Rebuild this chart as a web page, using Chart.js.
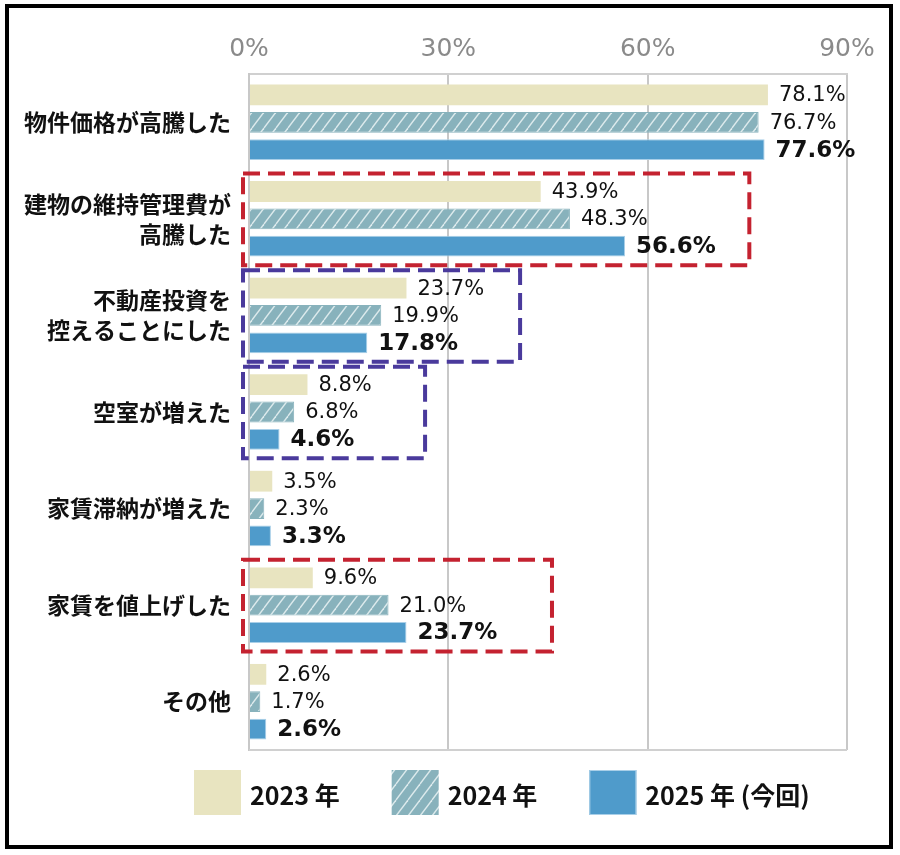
<!DOCTYPE html>
<html lang="ja">
<head>
<meta charset="utf-8">
<title>投資方針変更の理由</title>
<script src="https://cdn.jsdelivr.net/npm/chart.js@4.4.1/dist/chart.umd.min.js"></script>
<style>
  html, body { margin: 0; padding: 0; background: #fff; }
  #wrap { position: relative; width: 900px; height: 855px; }
  #frame {
    position: absolute; left: 5px; top: 4px; width: 888px; height: 845px;
    box-sizing: border-box; border: 4px solid #000; pointer-events: none;
  }
</style>
</head>
<body>
<div id="wrap">
  <canvas id="chart" width="900" height="855"></canvas>
  <div id="frame"></div>
</div>
<script>
// categories (multi-line labels as arrays)
const categories = [
    ['物件価格が高騰した'],
    ['建物の維持管理費が', '高騰した'],
    ['不動産投資を', '控えることにした'],
    ['空室が増えた'],
    ['家賃滞納が増えた'],
    ['家賃を値上げした'],
    ['その他']
];
const seriesLabels = ['2023 年', '2024 年', '2025 年 (今回)'];
const values2023 = [78.1, 43.9, 23.7, 8.8, 3.5, 9.6, 2.6];
const values2024 = [76.7, 48.3, 19.9, 6.8, 2.3, 21.0, 1.7];
const values2025 = [77.6, 56.6, 17.8, 4.6, 3.3, 23.7, 2.6];
const xTicks = [0, 30, 60, 90];

// dashed boxes drawn around some groups: row index, right edge (in %), colour
const boxRows = [1, 2, 3, 5];
const boxRightValues = [75.3, 40.8, 26.5, 45.6];
const boxColors = ['#c42230', '#4a3a9c', '#4a3a9c', '#c42230'];

// hatched fill for 2024
function makeHatch() {
    const c = document.createElement('canvas');
    c.width = 12;
    c.height = 16;
    const g = c.getContext('2d');
    g.fillStyle = '#88b2bc';
    g.fillRect(0, 0, 12, 16);
    g.strokeStyle = 'rgba(235,243,245,0.85)';
    g.lineWidth = 1.4;
    for (const off of [-12, 0, 12]) {
        g.beginPath();
        g.moveTo(off, 16);
        g.lineTo(off + 12, 0);
        g.stroke();
    }
    return g.createPattern(c, 'repeat');
}

const hatch = makeHatch();
const fills = ['#e8e4c0', hatch, '#4f9bcb'];
const borders = ['#e8e4c0', '#88b2bc', '#a9cfe8'];

const valueLabels = {
    id: 'valueLabels',
    afterDatasetsDraw(chart) {
        const ctx = chart.ctx;
        ctx.save();
        ctx.textBaseline = 'middle';
        ctx.textAlign = 'left';
        chart.data.datasets.forEach((ds, di) => {
            const meta = chart.getDatasetMeta(di);
            ctx.font = di === 2 ? 'bold 23px "DejaVu Sans"' : '21px "DejaVu Sans"';
            ctx.fillStyle = '#111';
            meta.data.forEach((bar, i) => {
                ctx.fillText(ds.data[i].toFixed(1) + '%', bar.x + 11, bar.y + 1);
            });
        });
        ctx.restore();
    }
};

const extras = {
    id: 'extras',
    afterDraw(chart) {
        const ctx = chart.ctx;
        const x = chart.scales.x;
        const y = chart.scales.y;
        const area = chart.chartArea;
        ctx.save();

        // bottom edge of plot area
        ctx.strokeStyle = '#d0d0d0';
        ctx.lineWidth = 2;
        ctx.beginPath();
        ctx.moveTo(area.left, area.bottom);
        ctx.lineTo(area.right, area.bottom);
        ctx.stroke();

        // dashed boxes
        const band = y.getPixelForValue(1) - y.getPixelForValue(0);
        ctx.lineWidth = 4;
        ctx.setLineDash([17, 8]);
        boxRows.forEach((row, k) => {
            const cy = y.getPixelForValue(row);
            const left = x.getPixelForValue(0) - 6;
            const right = x.getPixelForValue(boxRightValues[k]);
            ctx.strokeStyle = boxColors[k];
            ctx.strokeRect(left, cy - band / 2 + 3, right - left, band - 5);
        });
        ctx.setLineDash([]);

        // legend
        let lx = 194;
        const ly = 770;
        ctx.font = 'bold 25px "Noto Sans CJK JP"';
        ctx.textBaseline = 'middle';
        ctx.textAlign = 'left';
        chart.data.datasets.forEach((ds, di) => {
            ctx.fillStyle = ds.backgroundColor;
            ctx.fillRect(lx, ly, 47, 45);
            if (di === 2) {
                ctx.strokeStyle = '#a9cfe8';
                ctx.lineWidth = 1;
                ctx.strokeRect(lx + 0.5, ly + 0.5, 46, 44);
            }
            ctx.fillStyle = '#111';
            const tx = lx + 56;
            ctx.fillText(ds.label, tx, ly + 25);
            lx = tx + ctx.measureText(ds.label).width + 52;
        });
        ctx.restore();
    }
};

new Chart(document.getElementById('chart'), {
    type: 'bar',
    data: {
        labels: categories,
        datasets: [values2023, values2024, values2025].map((vals, i) => ({
            label: seriesLabels[i],
            data: vals,
            backgroundColor: fills[i],
            borderColor: borders[i],
            borderWidth: i === 0 ? 0 : 1,
            categoryPercentage: 0.85,
            barPercentage: 0.76
        }))
    },
    options: {
        indexAxis: 'y',
        responsive: false,
        animation: false,
        layout: { padding: { left: 0, right: 53, top: 0, bottom: 105 } },
        plugins: {
            legend: { display: false },
            tooltip: { enabled: false }
        },
        scales: {
            x: {
                position: 'top',
                min: 0,
                max: 90,
                afterBuildTicks: scale => {
                    scale.ticks = xTicks.map(v => ({ value: v }));
                },
                afterFit: scale => { scale.height = 74; },
                ticks: {
                    color: '#8a8a8a',
                    padding: 10,
                    font: { family: 'DejaVu Sans', size: 25 },
                    callback: v => v + '%'
                },
                grid: { color: '#c8c8c8', lineWidth: 2, drawTicks: false },
                border: { color: '#d0d0d0', width: 2 }
            },
            y: {
                afterFit: scale => { scale.width = 249; },
                ticks: {
                    color: '#111',
                    padding: 18,
                    font: { family: '"Noto Sans CJK JP"', size: 23, weight: 'bold', lineHeight: 1.3 }
                },
                grid: { display: false, drawTicks: false },
                border: { color: '#c8c8c8', width: 2 }
            }
        }
    },
    plugins: [valueLabels, extras]
});
</script>
</body>
</html>
